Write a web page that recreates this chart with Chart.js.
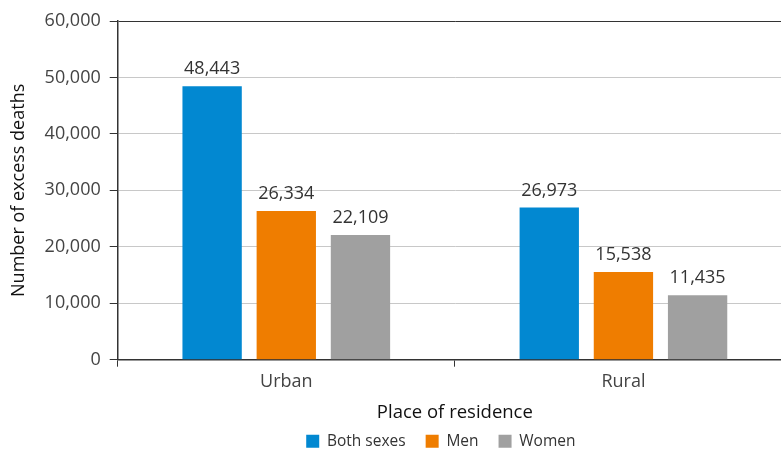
<!DOCTYPE html>
<html>
<head>
<meta charset="utf-8">
<script src="https://cdn.jsdelivr.net/npm/chart.js@4/dist/chart.umd.min.js"></script>
<style>
    body { margin: 0; background: #fff; overflow: hidden; }
    /* plot area runs slightly past the right edge of the page */
    #wrap { width: 792px; height: 452px; }
</style>
</head>
<body>
<div id="wrap"><canvas id="chart"></canvas></div>
<script>
const places = ['Urban', 'Rural']
const bothSexes = [48443, 26973]
const men = [26334, 15538]
const women = [22109, 11435]
const yTicks = [0, 10000, 20000, 30000, 40000, 50000, 60000]

const FONT = "'Open Sans', sans-serif"

// writes the value above each bar
const valueLabels = {
    id: 'valueLabels',
    afterDatasetsDraw(chart) {
        const ctx = chart.ctx
        ctx.save()
        ctx.font = '18px ' + FONT
        ctx.fillStyle = '#333'
        ctx.textAlign = 'center'
        ctx.textBaseline = 'bottom'
        chart.data.datasets.forEach((ds, i) => {
            chart.getDatasetMeta(i).data.forEach((bar, j) => {
                ctx.fillText(ds.data[j].toLocaleString('en-US'), bar.x, bar.y - 8)
            })
        })
        ctx.restore()
    }
}

// legend sits a bit left of the plot centre
const legendNudge = {
    id: 'legendNudge',
    afterLayout(chart) {
        const lg = chart.legend
        lg.left -= 14
        lg.right -= 14
    }
}

const data = {
    labels: places,
    datasets: [
        { label: 'Both sexes', data: bothSexes, backgroundColor: '#0288d1' },
        { label: 'Men', data: men, backgroundColor: '#ef7d00' },
        { label: 'Women', data: women, backgroundColor: '#a0a0a0' }
    ]
}

const config = {
    type: 'bar',
    data: data,
    plugins: [valueLabels, legendNudge],
    options: {
        responsive: true,
        maintainAspectRatio: false,
        animation: false,
        layout: { padding: { top: 21, right: 0, left: 8, bottom: -7 } },
        datasets: { bar: { categoryPercentage: 0.66, barPercentage: 0.8 } },
        plugins: {
            tooltip: { enabled: false },
            legend: {
                position: 'bottom',
                fullSize: false,
                labels: {
                    font: { family: FONT, size: 15.5 },
                    color: '#333',
                    boxWidth: 13,
                    boxHeight: 13,
                    padding: 20
                }
            }
        },
        scales: {
            x: {
                grid: { drawOnChartArea: false, tickLength: 7, color: '#333' },
                border: { color: '#333', width: 1.5 },
                ticks: { font: { family: FONT, size: 18 }, color: '#444', padding: 4 },
                title: {
                    display: true,
                    text: 'Place of residence',
                    font: { family: FONT, size: 18.5 },
                    color: '#111',
                    padding: { top: 5, bottom: -10 }
                }
            },
            y: {
                min: 0,
                max: 60000,
                afterBuildTicks: axis => { axis.ticks = yTicks.map(v => ({ value: v })) },
                grid: {
                    tickLength: 8,
                    color: ctx => ctx.tick && ctx.tick.value === 60000 ? '#333' : '#c8c8c8',
                    tickColor: '#333'
                },
                border: { color: '#333', width: 1.5 },
                ticks: {
                    font: { family: FONT, size: 18 },
                    color: '#444',
                    padding: 9,
                    callback: v => v.toLocaleString('en-US')
                },
                title: {
                    display: true,
                    text: 'Number of excess deaths',
                    font: { family: FONT, size: 18 },
                    color: '#111',
                    padding: { top: 0, bottom: 6 }
                }
            }
        }
    }
}

new Chart(document.getElementById('chart'), config)
</script>
</body>
</html>
